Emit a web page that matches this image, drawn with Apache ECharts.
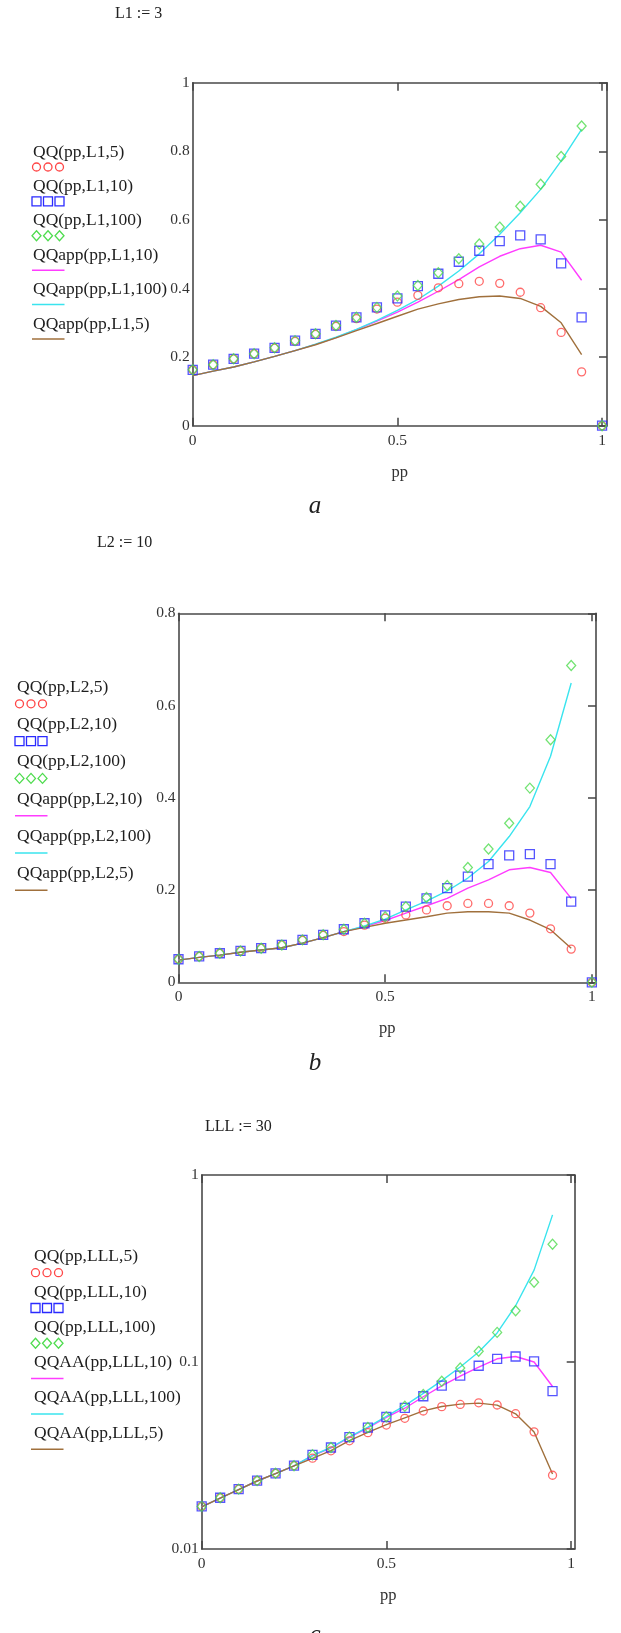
<!DOCTYPE html>
<html><head><meta charset="utf-8">
<script src="https://cdn.jsdelivr.net/npm/echarts@6.0.0/dist/echarts.min.js"></script>
<style>html,body{margin:0;padding:0;background:#fff}#c{width:621px;height:1633px}</style>
</head><body><div id="c"></div>
<script>
// ---------- data ----------
const ppAll = [0,0.05,0.1,0.15,0.2,0.25,0.3,0.35,0.4,0.45,0.5,0.55,0.6,0.65,0.7,0.75,0.8,0.85,0.9,0.95,1];
const ppApp = [0,0.05,0.1,0.15,0.2,0.25,0.3,0.35,0.4,0.45,0.5,0.55,0.6,0.65,0.7,0.75,0.8,0.85,0.9,0.95];

// chart a  (L1 = 3)
const qqA5   = [0.163,0.178,0.195,0.21,0.226,0.246,0.266,0.29,0.312,0.34,0.36,0.38,0.402,0.414,0.421,0.415,0.389,0.344,0.272,0.157,0];
const qqA10  = [0.163,0.178,0.195,0.21,0.227,0.248,0.268,0.292,0.316,0.345,0.371,0.407,0.443,0.478,0.51,0.538,0.555,0.543,0.473,0.316,0];
const qqA100 = [0.163,0.178,0.195,0.21,0.227,0.248,0.268,0.292,0.316,0.345,0.378,0.409,0.446,0.487,0.53,0.579,0.64,0.704,0.785,0.874,0];
const appA10  = [0.146,0.159,0.171,0.186,0.202,0.219,0.237,0.257,0.28,0.305,0.331,0.36,0.392,0.426,0.463,0.494,0.516,0.526,0.506,0.424];
const appA100 = [0.146,0.159,0.171,0.186,0.202,0.219,0.238,0.258,0.281,0.307,0.336,0.368,0.407,0.451,0.501,0.558,0.621,0.689,0.772,0.864];
const appA5   = [0.146,0.159,0.171,0.186,0.202,0.219,0.236,0.256,0.277,0.298,0.319,0.34,0.355,0.368,0.376,0.378,0.371,0.348,0.30,0.207];

// chart b  (L2 = 10)
const qqB5   = [0.05,0.056,0.063,0.068,0.074,0.081,0.091,0.102,0.11,0.124,0.139,0.146,0.157,0.166,0.171,0.171,0.166,0.15,0.116,0.072,0];
const qqB10  = [0.05,0.056,0.063,0.068,0.074,0.081,0.092,0.103,0.115,0.128,0.145,0.164,0.182,0.204,0.229,0.256,0.275,0.278,0.256,0.175,0];
const qqB100 = [0.05,0.056,0.063,0.068,0.074,0.081,0.092,0.103,0.115,0.128,0.142,0.164,0.184,0.21,0.249,0.289,0.345,0.421,0.526,0.687,0];
const appB10  = [0.048,0.054,0.059,0.065,0.07,0.075,0.085,0.097,0.11,0.121,0.134,0.15,0.166,0.182,0.204,0.222,0.244,0.249,0.238,0.182];
const appB100 = [0.048,0.054,0.059,0.065,0.07,0.075,0.085,0.097,0.11,0.122,0.137,0.157,0.176,0.198,0.226,0.262,0.316,0.381,0.49,0.649];
const appB5   = [0.048,0.054,0.059,0.065,0.07,0.075,0.085,0.097,0.11,0.119,0.128,0.135,0.142,0.15,0.153,0.153,0.15,0.135,0.114,0.074];

// chart c  (LLL = 30, log scale)
const qqC5   = [0.0169,0.0188,0.0209,0.0232,0.0254,0.0279,0.0306,0.0335,0.0379,0.0419,0.046,0.05,0.0547,0.0577,0.0593,0.0605,0.0589,0.0529,0.0423,0.0248];
const qqC10  = [0.0169,0.0188,0.0209,0.0232,0.0254,0.0279,0.0319,0.0349,0.0397,0.0446,0.0508,0.0569,0.0656,0.0748,0.0846,0.0955,0.104,0.107,0.1008,0.0698];
const qqC100 = [0.0169,0.0188,0.0209,0.0232,0.0254,0.0279,0.0319,0.0349,0.0397,0.0446,0.051,0.058,0.067,0.0789,0.0929,0.114,0.144,0.188,0.267,0.426];
const aaC10  = [0.0168,0.0187,0.0208,0.0231,0.0253,0.0278,0.0315,0.0347,0.0395,0.0444,0.0505,0.0566,0.0652,0.0745,0.084,0.094,0.104,0.107,0.100,0.074];
const aaC100 = [0.0168,0.0187,0.0208,0.0231,0.0253,0.0278,0.0317,0.0349,0.0398,0.0448,0.0512,0.0585,0.068,0.0795,0.094,0.113,0.143,0.2,0.31,0.612];
const aaC5   = [0.0168,0.0187,0.0208,0.0231,0.0253,0.0278,0.0305,0.0336,0.038,0.042,0.0462,0.0503,0.0548,0.0578,0.0595,0.0603,0.0588,0.0528,0.0422,0.0252];

const titles   = ['L1 := 3', 'L2 := 10', 'LLL := 30'];
const captions = ['a', 'b', 'c'];
const xName = 'pp';
const legendA = ['QQ(pp,L1,5)','QQ(pp,L1,10)','QQ(pp,L1,100)','QQapp(pp,L1,10)','QQapp(pp,L1,100)','QQapp(pp,L1,5)'];
const legendB = ['QQ(pp,L2,5)','QQ(pp,L2,10)','QQ(pp,L2,100)','QQapp(pp,L2,10)','QQapp(pp,L2,100)','QQapp(pp,L2,5)'];
const legendC = ['QQ(pp,LLL,5)','QQ(pp,LLL,10)','QQ(pp,LLL,100)','QQAA(pp,LLL,10)','QQAA(pp,LLL,100)','QQAA(pp,LLL,5)'];

// ---------- styling / layout ----------
const C = {red:'#ff4646', blue:'#2a2aff', green:'#4fdc4f', mag:'#ff3cff', cyan:'#3ae4ee', brown:'#a0703c'};
const SERIF = '"Liberation Serif","Times New Roman",serif';
const kinds = [
  {k:'circle', c:C.red}, {k:'rect', c:C.blue}, {k:'diamond', c:C.green},
  {k:'line', c:C.mag}, {k:'line', c:C.cyan}, {k:'line', c:C.brown}
];

const charts = [
  {grid:{left:192.7, top:82.7, width:414.3, height:343}, xMax:1.012,
   y:{type:'value', min:0, max:1, interval:0.2},
   qq:[qqA5,qqA10,qqA100], app:[appA10,appA100,appA5], ppq:ppAll,
   legend:legendA, lg:{tx:33, ty:152, dy:34.4, my:15, mx:32},
   title:{x:115, y:14}, cap:{x:315, y:506}},
  {grid:{left:178.5, top:613.3, width:417.5, height:369}, xMax:1.01,
   y:{type:'value', min:0, max:0.8, interval:0.2},
   qq:[qqB5,qqB10,qqB100], app:[appB10,appB100,appB5], ppq:ppAll,
   legend:legendB, lg:{tx:17, ty:687.3, dy:37.3, my:16.5, mx:15},
   title:{x:97, y:543}, cap:{x:315, y:1063}},
  {grid:{left:201.7, top:1175, width:373, height:374}, xMax:1.01,
   y:{type:'log', logBase:10, min:0.01, max:1},
   qq:[qqC5,qqC10,qqC100], app:[aaC10,aaC100,aaC5], ppq:ppApp,
   legend:legendC, lg:{tx:34, ty:1256.7, dy:35.3, my:16, mx:31},
   title:{x:205, y:1127}, cap:{x:315, y:1635}}
];

const frame = {show:true, onZero:false, lineStyle:{color:'#4a4a4a', width:1.6}};
const tickIn = {show:true, inside:true, length:8, lineStyle:{color:'#444', width:1.5}};
const labelFont = {fontFamily:SERIF, fontSize:15.5, color:'#333'};

const grid=[], xAxis=[], yAxis=[], series=[], graphic=[];
const pairs = (xs, ys) => ys.map((v,i)=>[xs[i], v]);

charts.forEach((ch, k) => {
  grid.push(Object.assign({containLabel:false}, ch.grid));
  // bottom + top x axes
  xAxis.push({type:'value', gridIndex:k, position:'bottom', min:0, max:ch.xMax, interval:0.5,
    axisLine:frame, axisTick:tickIn, splitLine:{show:false},
    axisLabel:Object.assign({margin:7, showMaxLabel:false,
      formatter:v => (Math.abs(v*2-Math.round(v*2))<1e-9 ? String(+v.toFixed(2)) : '')}, labelFont),
    name:xName, nameLocation:'middle', nameGap:38,
    nameTextStyle:{fontFamily:SERIF, fontSize:16.5, color:'#333'}});
  xAxis.push({type:'value', gridIndex:k, position:'top', min:0, max:ch.xMax, interval:0.5,
    axisLine:frame, axisTick:tickIn, axisLabel:{show:false}, splitLine:{show:false}});
  // left + right y axes
  yAxis.push(Object.assign({gridIndex:k, position:'left',
    axisLine:frame, axisTick:{show:false}, splitLine:{show:false}, minorTick:{show:false},
    axisLabel:Object.assign({margin:3}, labelFont)}, ch.y));
  yAxis.push(Object.assign({gridIndex:k, position:'right',
    axisLine:frame, axisTick:tickIn, splitLine:{show:false},
    axisLabel:{show:false}}, ch.y));

  const xi = 2*k, yi = 2*k;
  // approximation lines
  [C.mag, C.cyan, C.brown].forEach((col, j) => {
    series.push({type:'line', xAxisIndex:xi, yAxisIndex:yi, data:pairs(ppApp, ch.app[j]),
      showSymbol:false, symbol:'none', smooth:false, silent:true, animation:false,
      lineStyle:{color:col, width:1.4}, z:2});
  });
  // exact markers
  const sym = [['circle',8],['rect',9],['diamond',[9,10]]];
  [C.red, C.blue, C.green].forEach((col, j) => {
    series.push({type:'scatter', xAxisIndex:xi, yAxisIndex:yi, data:pairs(ch.ppq, ch.qq[j]),
      symbol:sym[j][0], symbolSize:sym[j][1], clip:false, animation:false, silent:true,
      itemStyle:{color:'rgba(0,0,0,0)', borderColor:col, borderWidth:1.3}, z:3});
  });

  // title and caption
  graphic.push({type:'text', x:ch.title.x, y:ch.title.y,
    style:{text:titles[k], font:'16px '+SERIF, fill:'#222', align:'left', verticalAlign:'middle', textAlign:'left', textVerticalAlign:'middle'}});
  graphic.push({type:'text', x:ch.cap.x, y:ch.cap.y,
    style:{text:captions[k], font:'italic 25px '+SERIF, fill:'#222', align:'center', verticalAlign:'middle', textAlign:'center', textVerticalAlign:'middle'}});

  // legend block (text above sample)
  ch.legend.forEach((lab, i) => {
    const ty = ch.lg.ty + i*ch.lg.dy, my = ty + ch.lg.my, mx = ch.lg.mx, kd = kinds[i];
    graphic.push({type:'text', x:ch.lg.tx, y:ty,
      style:{text:lab, font:'17.5px '+SERIF, fill:'#1e1e1e', align:'left', verticalAlign:'middle', textAlign:'left', textVerticalAlign:'middle'}});
    const st = {fill:'none', stroke:kd.c, lineWidth:1.3};
    if (kd.k === 'line') {
      graphic.push({type:'line', shape:{x1:mx, y1:my, x2:mx+32.5, y2:my}, style:{stroke:kd.c, lineWidth:1.5}});
    } else {
      [4.5, 16, 27.5].forEach(o => {
        const cx = mx + o;
        if (kd.k === 'circle') graphic.push({type:'circle', shape:{cx:cx, cy:my, r:4}, style:st});
        else if (kd.k === 'rect') graphic.push({type:'rect', shape:{x:cx-4.5, y:my-4.5, width:9, height:9}, style:st});
        else graphic.push({type:'polygon', shape:{points:[[cx,my-5],[cx+4.5,my],[cx,my+5],[cx-4.5,my]]}, style:st});
      });
    }
  });
});

const chart = echarts.init(document.getElementById('c'), null, {renderer:'canvas'});
chart.setOption({backgroundColor:'#fff', animation:false, grid, xAxis, yAxis, series, graphic});
</script>
</body></html>
